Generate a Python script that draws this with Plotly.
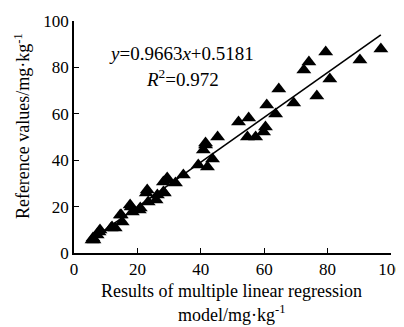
import plotly.graph_objects as go

# Data (x: model results, y: reference values)
x_vals = [5.7, 6.3, 6.0, 7.3, 7.9, 8.2, 11.7, 12.0, 13.0, 14.9, 15.2, 14.6,
          18.0, 17.7, 18.4, 20.6, 20.9, 22.8, 23.1, 23.4, 25.9, 26.3, 28.2, 28.5,
          29.1, 28.2, 29.4, 32.0, 34.5, 39.2, 42.1, 43.7, 40.8, 41.5, 41.5, 45.3,
          51.9, 55.1, 54.7, 57.3, 59.8, 60.4, 60.8, 63.6, 64.6, 69.3, 72.5, 74.1,
          76.6, 79.4, 80.7, 90.2, 96.8]
y_vals = [5.6, 5.6, 6.5, 7.8, 9.0, 9.9, 10.8, 11.2, 10.8, 16.4, 13.4, 16.4,
          19.8, 20.7, 17.7, 18.5, 19.4, 25.9, 27.2, 22.0, 22.8, 25.0, 26.3, 25.9,
          31.5, 30.6, 32.3, 30.2, 33.6, 37.9, 37.1, 40.5, 44.4, 46.5, 47.4, 50.0,
          56.5, 58.2, 50.0, 50.0, 52.2, 54.3, 63.8, 59.9, 70.7, 64.7, 78.9, 82.3,
          67.7, 86.6, 75.0, 83.2, 87.9]
slope = 0.9663
intercept = 0.5181
fit_x = [5.0, 96.8]
fit_y = [slope * v + intercept for v in fit_x]
x_ticks = [0, 20, 40, 60, 80, 100]
y_ticks = [0, 20, 40, 60, 80, 100]

FONT = "Liberation Serif, Times New Roman, serif"

fig = go.Figure()
fig.add_trace(go.Scatter(x=fit_x, y=fit_y, mode="lines",
                         line=dict(color="black", width=1.6), showlegend=False,
                         hoverinfo="skip"))
fig.add_trace(go.Scatter(x=x_vals, y=y_vals, mode="markers",
                         marker=dict(symbol="triangle-up", size=13, color="black",
                                     line=dict(width=0)),
                         showlegend=False))

fig.add_annotation(x=34, y=86.2, xref="x", yref="y", showarrow=False,
                   text="<i>y</i>=0.9663<i>x</i>+0.5181",
                   font=dict(family=FONT, size=19, color="black"))
fig.add_annotation(x=34.2, y=75.4, xref="x", yref="y", showarrow=False,
                   text="<i>R</i><sup>2</sup>=0.972",
                   font=dict(family=FONT, size=19, color="black"))

# axis titles as paper annotations
fig.add_annotation(x=0.498, y=-0.163, xref="paper", yref="paper", showarrow=False,
                   text="Results of multiple linear regression", yanchor="middle",
                   font=dict(family=FONT, size=18, color="black"))
fig.add_annotation(x=0.498, y=-0.260, xref="paper", yref="paper", showarrow=False,
                   text="model/mg·kg<sup>-1</sup>", yanchor="middle",
                   font=dict(family=FONT, size=18, color="black"))
fig.add_annotation(x=-0.164, y=0.547, xref="paper", yref="paper", showarrow=False,
                   text="Reference values/mg·kg<sup>-1</sup>", textangle=-90,
                   xanchor="center", yanchor="middle",
                   font=dict(family=FONT, size=18, color="black"))

# page body has an 8px margin, so the figure is shrunk by 8px on the top/left
fig.update_layout(
    width=396, height=319,
    margin=dict(l=66, r=13, t=13, b=74),
    paper_bgcolor="white", plot_bgcolor="white",
    font=dict(family=FONT, size=17, color="black"),
    xaxis=dict(range=[0, 100], tickvals=x_ticks, ticks="inside", ticklen=5,
               tickwidth=1.2, tickcolor="black", showline=True, linecolor="black",
               linewidth=1.5, showgrid=False, zeroline=False, automargin=False,
               tickfont=dict(family=FONT, size=17, color="black")),
    yaxis=dict(range=[0, 100], tickvals=y_ticks, ticks="inside", ticklen=5,
               tickwidth=1.2, tickcolor="black", showline=True, linecolor="black",
               linewidth=1.5, showgrid=False, zeroline=False, automargin=False,
               tickfont=dict(family=FONT, size=17, color="black")),
)

fig.write_html("out.html")
